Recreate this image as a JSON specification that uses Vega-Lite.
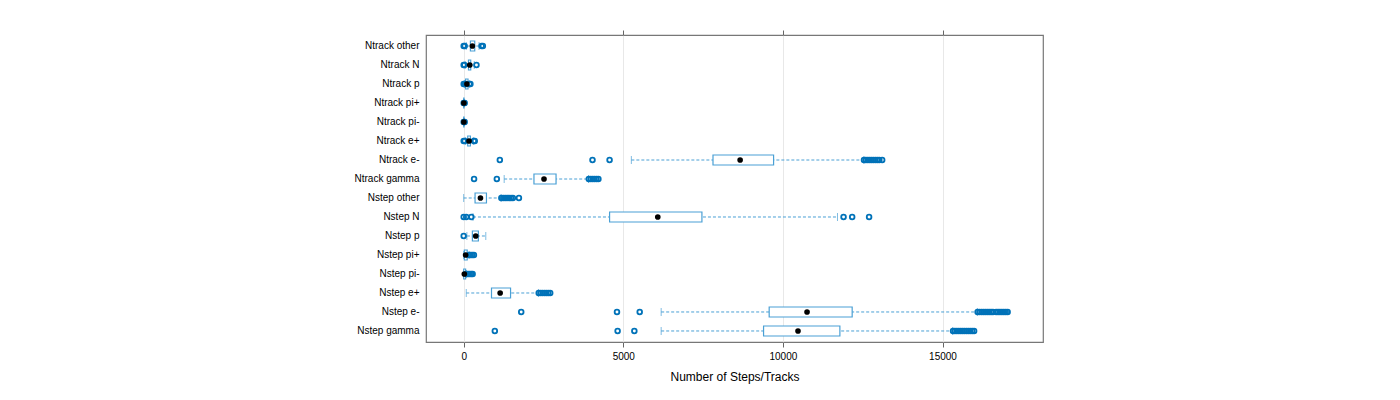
{
  "$schema": "https://vega.github.io/schema/vega-lite/v6.json",
  "autosize": "none",
  "padding": {"left": 426, "top": 35, "right": 357, "bottom": 58},
  "width": 617,
  "height": 307,
  "config": {
    "font": "Liberation Sans",
    "view": {"stroke": "#777777", "strokeWidth": 1.2},
    "axis": {"labelFont": "Liberation Sans", "titleFont": "Liberation Sans", "labelColor": "#000000", "titleColor": "#000000"}
  },
  "datasets": {
    "stats": [
      {"var": "Ntrack other", "lo": 80, "q1": 210, "med": 272, "q3": 346, "hi": 480},
      {"var": "Ntrack N", "lo": 50, "q1": 150, "med": 190, "q3": 220, "hi": 330},
      {"var": "Ntrack p", "lo": 30, "q1": 60, "med": 100, "q3": 135, "hi": 170},
      {"var": "Ntrack pi+", "lo": 0, "q1": 0, "med": 5, "q3": 10, "hi": 12},
      {"var": "Ntrack pi-", "lo": 0, "q1": 0, "med": 5, "q3": 10, "hi": 12},
      {"var": "Ntrack e+", "lo": 60, "q1": 126, "med": 167, "q3": 210, "hi": 300},
      {"var": "Ntrack e-", "lo": 5252, "q1": 7810, "med": 8660, "q3": 9708, "hi": 12538},
      {"var": "Ntrack gamma", "lo": 1268, "q1": 2201, "med": 2516, "q3": 2893, "hi": 3910},
      {"var": "Nstep other", "lo": 0, "q1": 356, "med": 525, "q3": 713, "hi": 1170},
      {"var": "Nstep N", "lo": 290, "q1": 4570, "med": 6080, "q3": 7463, "hi": 11710},
      {"var": "Nstep p", "lo": 100, "q1": 272, "med": 377, "q3": 460, "hi": 692},
      {"var": "Nstep pi+", "lo": 0, "q1": 20, "med": 60, "q3": 110, "hi": 170},
      {"var": "Nstep pi-", "lo": 0, "q1": 0, "med": 20, "q3": 60, "hi": 90},
      {"var": "Nstep e+", "lo": 80, "q1": 871, "med": 1142, "q3": 1468, "hi": 2340},
      {"var": "Nstep e-", "lo": 6186, "q1": 9570, "med": 10756, "q3": 12170, "hi": 16090},
      {"var": "Nstep gamma", "lo": 6186, "q1": 9394, "med": 10473, "q3": 11785, "hi": 15317}
    ],
    "outliers": [
      {"var": "Ntrack other", "v": 0}, {"var": "Ntrack other", "v": 30}, {"var": "Ntrack other", "v": 560}, {"var": "Ntrack other", "v": 600},
      {"var": "Ntrack N", "v": 0}, {"var": "Ntrack N", "v": 20}, {"var": "Ntrack N", "v": 400},
      {"var": "Ntrack p", "v": 0}, {"var": "Ntrack p", "v": 20}, {"var": "Ntrack p", "v": 60}, {"var": "Ntrack p", "v": 180}, {"var": "Ntrack p", "v": 210},
      {"var": "Ntrack pi+", "v": 0}, {"var": "Ntrack pi+", "v": 15}, {"var": "Ntrack pi+", "v": 30},
      {"var": "Ntrack pi-", "v": 0}, {"var": "Ntrack pi-", "v": 15}, {"var": "Ntrack pi-", "v": 30},
      {"var": "Ntrack e+", "v": 0}, {"var": "Ntrack e+", "v": 30}, {"var": "Ntrack e+", "v": 320}, {"var": "Ntrack e+", "v": 346},
      {"var": "Ntrack e-", "v": 1132}, {"var": "Ntrack e-", "v": 4035}, {"var": "Ntrack e-", "v": 4570},
      {"var": "Ntrack e-", "v": 12540}, {"var": "Ntrack e-", "v": 12600}, {"var": "Ntrack e-", "v": 12660}, {"var": "Ntrack e-", "v": 12720}, {"var": "Ntrack e-", "v": 12780}, {"var": "Ntrack e-", "v": 12840}, {"var": "Ntrack e-", "v": 12900}, {"var": "Ntrack e-", "v": 12960}, {"var": "Ntrack e-", "v": 13020}, {"var": "Ntrack e-", "v": 13110},
      {"var": "Ntrack gamma", "v": 325}, {"var": "Ntrack gamma", "v": 1038},
      {"var": "Ntrack gamma", "v": 3920}, {"var": "Ntrack gamma", "v": 3980}, {"var": "Ntrack gamma", "v": 4040}, {"var": "Ntrack gamma", "v": 4100}, {"var": "Ntrack gamma", "v": 4160}, {"var": "Ntrack gamma", "v": 4220},
      {"var": "Nstep other", "v": 1180}, {"var": "Nstep other", "v": 1240}, {"var": "Nstep other", "v": 1300}, {"var": "Nstep other", "v": 1360}, {"var": "Nstep other", "v": 1420}, {"var": "Nstep other", "v": 1480}, {"var": "Nstep other", "v": 1540}, {"var": "Nstep other", "v": 1730},
      {"var": "Nstep N", "v": 0}, {"var": "Nstep N", "v": 80}, {"var": "Nstep N", "v": 240}, {"var": "Nstep N", "v": 11900}, {"var": "Nstep N", "v": 12170}, {"var": "Nstep N", "v": 12700},
      {"var": "Nstep p", "v": 0},
      {"var": "Nstep pi+", "v": 170}, {"var": "Nstep pi+", "v": 220}, {"var": "Nstep pi+", "v": 270}, {"var": "Nstep pi+", "v": 320},
      {"var": "Nstep pi-", "v": 90}, {"var": "Nstep pi-", "v": 140}, {"var": "Nstep pi-", "v": 190}, {"var": "Nstep pi-", "v": 240}, {"var": "Nstep pi-", "v": 280},
      {"var": "Nstep e+", "v": 2350}, {"var": "Nstep e+", "v": 2410}, {"var": "Nstep e+", "v": 2470}, {"var": "Nstep e+", "v": 2530}, {"var": "Nstep e+", "v": 2590}, {"var": "Nstep e+", "v": 2650}, {"var": "Nstep e+", "v": 2710},
      {"var": "Nstep e-", "v": 1802}, {"var": "Nstep e-", "v": 4802}, {"var": "Nstep e-", "v": 5514},
      {"var": "Nstep e-", "v": 16100}, {"var": "Nstep e-", "v": 16160}, {"var": "Nstep e-", "v": 16220}, {"var": "Nstep e-", "v": 16280}, {"var": "Nstep e-", "v": 16340}, {"var": "Nstep e-", "v": 16400}, {"var": "Nstep e-", "v": 16460}, {"var": "Nstep e-", "v": 16520}, {"var": "Nstep e-", "v": 16580},
      {"var": "Nstep e-", "v": 16680}, {"var": "Nstep e-", "v": 16740}, {"var": "Nstep e-", "v": 16800}, {"var": "Nstep e-", "v": 16860}, {"var": "Nstep e-", "v": 16920}, {"var": "Nstep e-", "v": 16980}, {"var": "Nstep e-", "v": 17040},
      {"var": "Nstep gamma", "v": 975}, {"var": "Nstep gamma", "v": 4822}, {"var": "Nstep gamma", "v": 5346},
      {"var": "Nstep gamma", "v": 15330}, {"var": "Nstep gamma", "v": 15390}, {"var": "Nstep gamma", "v": 15450}, {"var": "Nstep gamma", "v": 15510}, {"var": "Nstep gamma", "v": 15570}, {"var": "Nstep gamma", "v": 15630}, {"var": "Nstep gamma", "v": 15690}, {"var": "Nstep gamma", "v": 15750}, {"var": "Nstep gamma", "v": 15810}, {"var": "Nstep gamma", "v": 15870}, {"var": "Nstep gamma", "v": 15930}, {"var": "Nstep gamma", "v": 15990}
    ]
  },
  "encoding": {
    "y": {
      "field": "var", "type": "nominal",
      "sort": ["Ntrack other", "Ntrack N", "Ntrack p", "Ntrack pi+", "Ntrack pi-", "Ntrack e+", "Ntrack e-", "Ntrack gamma", "Nstep other", "Nstep N", "Nstep p", "Nstep pi+", "Nstep pi-", "Nstep e+", "Nstep e-", "Nstep gamma"],
      "scale": {"paddingInner": 0, "paddingOuter": 0.08},
      "axis": {"title": null, "ticks": false, "domain": false, "labelFontSize": 10, "labelPadding": 7, "grid": false}
    }
  },
  "layer": [
    {
      "data": {"name": "stats"},
      "mark": {"type": "rule", "color": "#4aa0d5", "strokeDash": [3, 2], "strokeWidth": 1},
      "encoding": {
        "x": {"field": "lo", "type": "quantitative",
          "scale": {"domain": [-1181, 18148], "nice": false, "zero": false},
          "axis": {"orient": "bottom", "title": "Number of Steps/Tracks", "values": [0, 5000, 10000, 15000], "format": "d", "grid": true, "gridColor": "#e8e8e8", "domain": false, "tickColor": "#666666", "tickSize": 5, "labelFontSize": 10, "labelPadding": 4, "titleFontSize": 12, "titleFontWeight": "normal", "titlePadding": 10}},
        "x2": {"field": "hi"}
      }
    },
    {
      "data": {"name": "stats"},
      "mark": {"type": "tick", "orient": "vertical", "color": "#4aa0d5", "size": 8, "thickness": 1, "strokeDash": [3, 2]},
      "encoding": {"x": {"field": "lo", "type": "quantitative", "axis": null}}
    },
    {
      "data": {"name": "stats"},
      "mark": {"type": "tick", "orient": "vertical", "color": "#4aa0d5", "size": 8, "thickness": 1, "strokeDash": [3, 2]},
      "encoding": {"x": {"field": "hi", "type": "quantitative", "axis": null}}
    },
    {
      "data": {"name": "stats"},
      "mark": {"type": "bar", "fill": "#ffffff", "stroke": "#4aa0d5", "strokeWidth": 1.2, "height": 10},
      "encoding": {"x": {"field": "q1", "type": "quantitative", "axis": null}, "x2": {"field": "q3"}}
    },
    {
      "data": {"name": "outliers"},
      "mark": {"type": "point", "shape": "circle", "filled": false, "stroke": "#0072b8", "strokeWidth": 1.8, "size": 22, "opacity": 1},
      "encoding": {"x": {"field": "v", "type": "quantitative", "axis": null}}
    },
    {
      "data": {"name": "stats"},
      "mark": {"type": "point", "shape": "circle", "filled": true, "color": "#000000", "size": 32, "opacity": 1},
      "encoding": {"x": {"field": "med", "type": "quantitative", "axis": null}}
    },
    {
      "data": {"name": "stats"},
      "mark": {"type": "rule", "opacity": 0},
      "encoding": {
        "x": {"field": "med", "type": "quantitative",
          "axis": {"orient": "top", "title": null, "values": [0, 5000, 10000, 15000], "labels": false, "grid": false, "domain": false, "tickColor": "#666666", "tickSize": 5}}
      }
    }
  ],
  "resolve": {"axis": {"x": "independent"}}
}
